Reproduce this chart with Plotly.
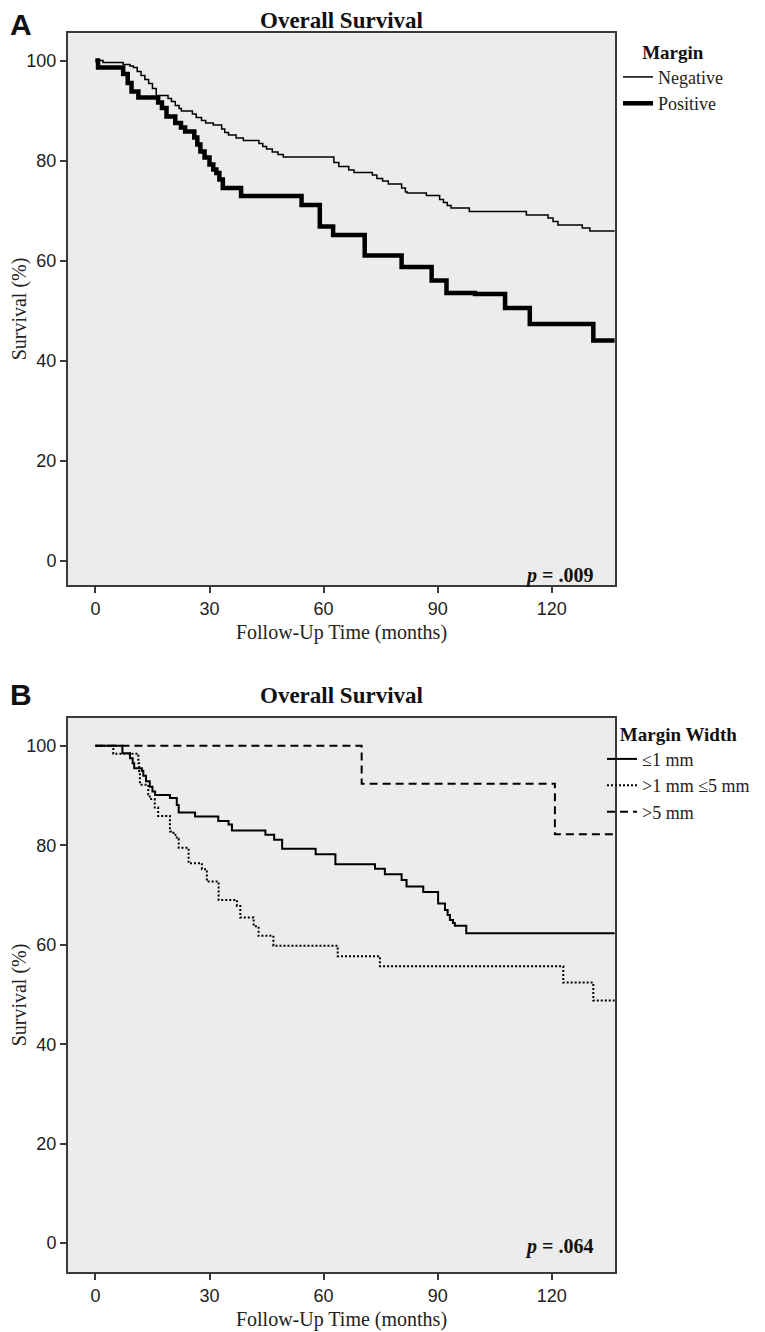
import plotly.graph_objects as go

# ---------------- Panel A: Margin ----------------
neg_t = [0, 2, 7.3, 9.1, 10, 11, 12, 13, 14, 15, 16, 19.1, 20, 21, 22, 22.6, 24.8, 25.5, 26.5, 27.9,
         29, 31, 33.2, 34, 35, 37, 38.9, 43, 44, 45, 46.5, 48, 49.4, 62.7, 64, 66.6, 68, 72.8, 74,
         75.5, 77, 80.5, 81.5, 82, 87, 90.5, 91.5, 92.5, 93.5, 98.3, 113.3, 119, 120.3, 121.6, 128,
         130, 136.5]
neg_s = [100, 99.6, 99.2, 98.9, 98.6, 97.8, 97.0, 96.2, 95.4, 94.4, 93.0, 92.4, 91.8, 91.0, 90.4, 89.9,
         89.9, 89.3, 88.6, 88.0, 87.5, 87.1, 86.3, 85.6, 85.1, 84.5, 84.0, 83.4, 82.8, 82.3, 81.7, 81.2,
         80.7, 79.6, 78.8, 78.1, 77.6, 77.1, 76.4, 75.9, 75.3, 74.5, 73.7, 73.5, 73.0, 72.2, 71.6, 71.0,
         70.5, 69.8, 69.1, 68.5, 67.8, 67.1, 66.5, 65.9, 65.9]

pos_t = [0, 0.7, 7.3, 8.5, 9.5, 11.3, 16.5, 17.5, 18.7, 21, 22.5, 23.6, 26, 26.8, 27.6, 28.7, 30, 31,
         31.8, 32.6, 33.5, 38.3, 54.2, 59, 62.5, 70.8, 80.5, 88.4, 92.3, 99.8, 107.7, 114.2, 130.9, 136.5]
pos_s = [100, 98.6, 97.3, 95.5, 93.8, 92.6, 91.6, 90.5, 88.8, 87.5, 86.6, 85.8, 84.6, 83.2, 81.8, 80.6,
         79.2, 78.2, 77.5, 76.2, 74.5, 72.9, 71.1, 66.8, 65.1, 61.0, 58.7, 56.0, 53.5, 53.3, 50.5, 47.3,
         44.0, 44.0]

# ---------------- Panel B: Margin width ----------------
le1_t = [0, 7.1, 9.1, 9.8, 10.2, 12.2, 12.6, 13.3, 14.3, 15, 15.7, 19.6, 21.4, 21.9, 26.2, 32.3, 35,
         35.9, 44.7, 47, 49.1, 57.9, 63.1, 73.5, 76.1, 80.5, 81.8, 86.2, 90.1, 91.9, 92.6, 93.2, 94,
         94.5, 97.5, 136.5]
le1_s = [100, 98.5, 97.5, 96.5, 95.5, 95.0, 94.0, 92.9, 91.8, 90.8, 90.1, 89.5, 88.1, 86.6, 85.8, 84.9,
         84.2, 83.0, 82.1, 81.1, 79.3, 78.2, 76.2, 75.3, 74.2, 73.0, 71.7, 70.6, 68.3, 67.0, 66.0, 65.0,
         64.4, 63.8, 62.3, 62.3]

mid_t = [0, 4.7, 11.3, 11.5, 11.7, 13.9, 14.3, 15.6, 16.5, 19.6, 20.5, 21.4, 21.9, 24.5, 28, 29.3,
         32.4, 37.2, 38.1, 41.6, 42.9, 46.8, 63.7, 74.8, 123, 130.9, 136.5]
mid_s = [100, 98.4, 96.5, 94.6, 92.2, 90.2, 89.3, 87.6, 85.9, 82.8, 82.1, 81.3, 79.5, 76.4, 75.2, 72.7,
         69.0, 67.8, 65.5, 63.7, 61.8, 59.8, 57.7, 55.7, 52.4, 48.8, 48.8]

gt5_t = [0, 70, 120.8, 136.5]
gt5_s = [100, 92.4, 82.2, 82.2]

x_ticks = [0, 30, 60, 90, 120]
y_ticks = [0, 20, 40, 60, 80, 100]

SERIF = "Liberation Serif, Times New Roman, serif"
SANS = "Liberation Sans, Arial, sans-serif"

# page has an 8px body margin: figure is sized to fit, positions are page pixels minus 8
OFF = 8
W, H = 765 - OFF, 1332 - OFF


def px(x):
    return (x - OFF) / W


def py(y):
    return 1 - (y - OFF) / H


fig = go.Figure()

fig.add_trace(go.Scatter(x=neg_t, y=neg_s, mode="lines", line=dict(shape="hv", color="black", width=1.5),
                         name="Negative", xaxis="x", yaxis="y", legend="legend"))
fig.add_trace(go.Scatter(x=pos_t, y=pos_s, mode="lines", line=dict(shape="hv", color="black", width=4.5),
                         name="Positive", xaxis="x", yaxis="y", legend="legend"))

fig.add_trace(go.Scatter(x=le1_t, y=le1_s, mode="lines", line=dict(shape="hv", color="black", width=2),
                         name="≤1 mm", xaxis="x2", yaxis="y2", legend="legend2"))
fig.add_trace(go.Scatter(x=mid_t, y=mid_s, mode="lines",
                         line=dict(shape="hv", color="black", width=2, dash="2px,2px"),
                         name=">1 mm ≤5 mm", xaxis="x2", yaxis="y2", legend="legend2"))
fig.add_trace(go.Scatter(x=gt5_t, y=gt5_s, mode="lines",
                         line=dict(shape="hv", color="black", width=2, dash="8px,5px"),
                         name=">5 mm", xaxis="x2", yaxis="y2", legend="legend2"))

xdom = [px(68), px(615)]
ydomA = [py(585), py(33)]
ydomB = [py(1272), py(718)]

axis_common = dict(showline=True, mirror=True, linecolor="#3a3a3a", linewidth=2, ticks="outside",
                   ticklen=6, tickwidth=1.5, tickcolor="#3a3a3a", showgrid=False, zeroline=False,
                   tickfont=dict(family=SANS, size=18, color="#222"))

xtitle = dict(text="Follow-Up Time (months)", font=dict(family=SERIF, size=20, color="#222"), standoff=7)
ytitle = dict(text="Survival (%)", font=dict(family=SERIF, size=20, color="#222"), standoff=0)

legend_font = dict(family=SERIF, size=18, color="#222")
legend_title_font = dict(family=SERIF, size=19, color="#111")

fig.update_layout(
    width=W, height=H, margin=dict(l=0, r=0, t=0, b=0),
    paper_bgcolor="white", plot_bgcolor="#ececec",
    xaxis=dict(domain=xdom, range=[-7.2, 136.6], tickvals=x_ticks, anchor="y", title=xtitle, **axis_common),
    yaxis=dict(domain=ydomA, range=[-4.9, 105.5], tickvals=y_ticks, anchor="x", title=ytitle, **axis_common),
    xaxis2=dict(domain=xdom, range=[-7.2, 136.6], tickvals=x_ticks, anchor="y2", title=xtitle, **axis_common),
    yaxis2=dict(domain=ydomB, range=[-5.8, 105.6], tickvals=y_ticks, anchor="x2", title=ytitle, **axis_common),
    legend=dict(x=px(618), y=py(34), xanchor="left", yanchor="top", bgcolor="rgba(0,0,0,0)",
                font=legend_font, itemwidth=30, tracegroupgap=0,
                title=dict(text="<b>Margin</b>", side="top center", font=legend_title_font)),
    legend2=dict(x=px(602), y=py(716), xanchor="left", yanchor="top", bgcolor="rgba(0,0,0,0)",
                 font=legend_font, itemwidth=30, tracegroupgap=0,
                 title=dict(text="<b>Margin Width</b>", side="top center", font=legend_title_font)),
    showlegend=True,
)

annos = [
    dict(text="<b>A</b>", x=px(8), y=py(24), font=dict(family=SANS, size=30, color="#111")),
    dict(text="<b>B</b>", x=px(8), y=py(694), font=dict(family=SANS, size=30, color="#111")),
    dict(text="<b>Overall Survival</b>", x=px(341.5), y=py(21), xanchor="center",
         font=dict(family=SERIF, size=23, color="#111")),
    dict(text="<b>Overall Survival</b>", x=px(341.5), y=py(695), xanchor="center",
         font=dict(family=SERIF, size=23, color="#111")),
    dict(text="<b><i>p</i> = .009</b>", x=px(595), y=py(575), xanchor="right",
         font=dict(family=SERIF, size=20, color="#111")),
    dict(text="<b><i>p</i> = .064</b>", x=px(595), y=py(1246), xanchor="right",
         font=dict(family=SERIF, size=20, color="#111")),
]
for a in annos:
    a.setdefault("xanchor", "left")
    fig.add_annotation(xref="paper", yref="paper", showarrow=False, yanchor="middle", **a)

fig.write_html("out.html")
